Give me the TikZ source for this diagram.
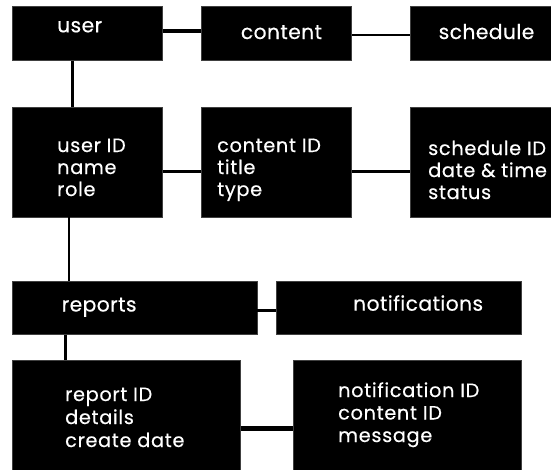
\documentclass[tikz,border=0pt]{standalone}
\usepackage{fontspec}
\setmainfont{Poppins}
\newfontfamily\pophead{Poppins}[LetterSpace=2,FakeBold=0.4]
\newfontfamily\popattr{Poppins}[LetterSpace=3.5,FakeBold=0.4]
\begin{document}
\begin{tikzpicture}[x=1pt,y=-1pt,
  box/.style={fill=black,draw=black!75,line width=0.6pt,inner sep=0pt,anchor=north west,rectangle},
  head/.style={text=white,inner sep=0pt,anchor=base west,font=\pophead\fontsize{20.3}{22}\selectfont},
  attr/.style={text=white,inner sep=0pt,anchor=base west,font=\popattr\fontsize{19.3}{22}\selectfont},
  conn/.style={draw=black,line width=2.6pt}]
\useasboundingbox (0,0) rectangle (551,469);
\clip (0,0) rectangle (551,469);
% boxes
\node[box,minimum width=150pt,minimum height=54pt] (user) at (12.3,6) {};
\node[box,minimum width=150.4pt,minimum height=54pt] (content) at (201,6) {};
\node[box,minimum width=145pt,minimum height=54pt] (schedule) at (410.4,6) {};
\node[box,minimum width=150pt,minimum height=109.4pt] (userid) at (12.3,107.3) {};
\node[box,minimum width=150.4pt,minimum height=109.4pt] (contentid) at (201,107.3) {};
\node[box,minimum width=145pt,minimum height=109.4pt] (scheduleid) at (410.4,107.3) {};
\node[box,minimum width=244.2pt,minimum height=53.3pt] (reports) at (12.3,280.7) {};
\node[box,minimum width=244.9pt,minimum height=53.3pt] (notif) at (275.8,280.7) {};
\node[box,minimum width=227.7pt,minimum height=112pt] (reportid) at (12.3,360) {};
\node[box,minimum width=228pt,minimum height=112pt] (notifid) at (292.7,360) {};
% connectors
\draw[conn,line width=4pt] ([yshift=2pt]user.east) -- ([yshift=2pt]content.west);
\draw[conn,line width=2.2pt] ([yshift=-1.3pt]content.east) -- ([yshift=-1.3pt]schedule.west);
\draw[conn] ([xshift=-15.3pt]user.south) -- ([xshift=-15.3pt]userid.north);
\draw[conn] ([yshift=-9pt]userid.east) -- ([yshift=-9pt]contentid.west);
\draw[conn] ([yshift=-9pt]contentid.east) -- ([yshift=-9pt]scheduleid.west);
\draw[conn] ([xshift=-18.8pt]userid.south) -- ([xshift=-65.9pt]reports.north);
\draw[conn,line width=3.2pt] ([yshift=-2.65pt]reports.east) -- ([yshift=-2.65pt]notif.west);
\draw[conn,line width=3pt] ([xshift=-69.4pt]reports.south) -- ([xshift=-61.15pt]reportid.north);
\draw[conn,line width=4.5pt] ([yshift=-12pt]reportid.east) -- ([yshift=-12pt]notifid.west);
% texts
\node[head] (tuser) at (57,32.3) {user};
\node[head] (tcontent) at (240.7,39) {content};
\node[head] (tschedule) at (438.5,39) {schedule};
\node[attr] (u1) at (57,152) {user ID};
\node[attr] (u2) at (57,174) {name};
\node[attr] (u3) at (57,196) {role};
\node[attr] (c1) at (217,152) {content ID};
\node[attr] (c2) at (217,174) {title};
\node[attr] (c3) at (217,196) {type};
\node[attr] (s1) at (428,155) {schedule ID};
\node[attr] (s2) at (428,177) {date \& time};
\node[attr] (s3) at (428,199) {status};
\node[head] (treports) at (61.5,311.5) {reports};
\node[head] (tnotif) at (353,310.7) {notifications};
\node[attr] (r1) at (65,401) {report ID};
\node[attr] (r2) at (65,424) {details};
\node[attr] (r3) at (65,447) {create date};
\node[attr] (n1) at (338,397) {notification ID};
\node[attr] (n2) at (338,419.5) {content ID};
\node[attr] (n3) at (338,442) {message};
\end{tikzpicture}
\end{document}
